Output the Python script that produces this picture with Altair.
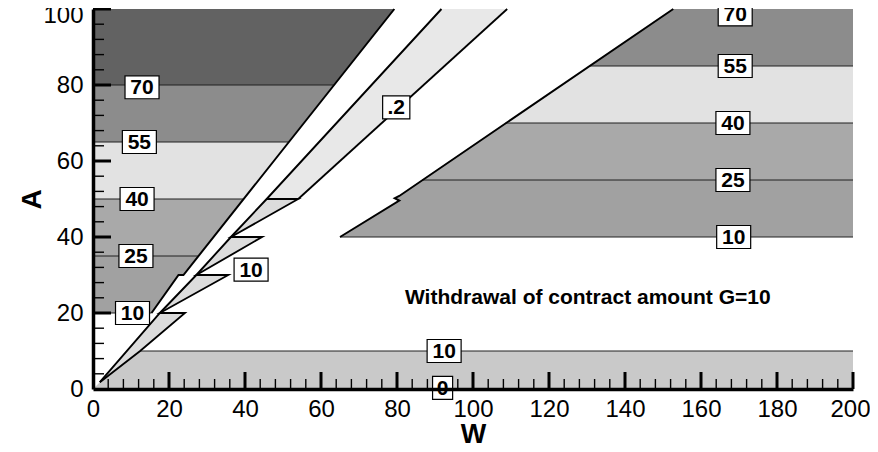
import altair as alt
import pandas as pd

FONT = "Liberation Sans"

# ---------------- filled contour regions (vertices: W, A) ----------------
bottom_W = [0, 200, 200, 12.4, 1.8]
bottom_A = [0, 0, 10, 10, 1.8]

left10_W = [0, 15.4, 22.5, 23.8, 27.6, 0]
left10_A = [20, 20, 30, 30, 35, 35]
left25_W = [0, 27.6, 39.6, 0]
left25_A = [35, 35, 50, 50]
left40_W = [0, 39.6, 51.4, 0]
left40_A = [50, 50, 65, 65]
left55_W = [0, 51.4, 63.3, 0]
left55_A = [65, 65, 80, 80]
left70_W = [0, 63.3, 79.3, 0]
left70_A = [80, 80, 100, 100]

right10_W = [65, 200, 200, 86.6, 80.6, 79.4, 80.6]
right10_A = [40, 40, 55, 55, 50.8, 50.2, 49.6]
right25_W = [86.6, 200, 200, 108.6]
right25_A = [55, 55, 70, 70]
right40_W = [108.6, 200, 200, 130.6]
right40_A = [70, 70, 85, 85]
right55_W = [130.6, 200, 200, 152.7]
right55_A = [85, 85, 100, 100]

band02_W = [45.7, 54, 109, 91.7]
band02_A = [50, 50, 100, 100]

tooth1_W = [1.8, 12.4, 24.2, 17.6]
tooth1_A = [1.8, 10, 20, 20]
tooth2_W = [17.6, 35.6, 27.2]
tooth2_A = [20, 30, 30]
tooth3_W = [27.2, 44.5, 36.3]
tooth3_A = [30, 40, 40]
tooth4_W = [36.3, 54, 45.7]
tooth4_A = [40, 50, 50]

# ---------------- outlines ----------------
edge_left_W = [15.4, 22.5, 23.8, 79.3]
edge_left_A = [20, 30, 30, 100]
edge_right_W = [65, 80.6, 79.4, 80.6, 152.7]
edge_right_A = [40, 49.6, 50.2, 50.8, 100]
ray_W = [1.8, 17.6, 27.2, 36.3, 45.7, 91.7]
ray_A = [1.8, 20, 30, 40, 50, 100]
saw_W = [1.8, 12.4, 24.2, 17.6, 35.6, 27.2, 44.5, 36.3, 54, 45.7]
saw_A = [1.8, 10, 20, 20, 30, 30, 40, 40, 50, 50]
band_right_W = [54, 109]
band_right_A = [50, 100]

# contour level lines (horizontal): level position A, start W, end W
hline_A = [10, 20, 35, 50, 65, 80, 40, 55, 70, 85]
hline_W0 = [12.4, 0, 0, 0, 0, 0, 65, 86.6, 108.6, 130.6]
hline_W1 = [200, 15.4, 27.6, 39.6, 51.4, 63.3, 200, 200, 200, 200]

# ---------------- contour labels ----------------
label_text = ["70", "55", "40", "25", "10", ".2", "10", "70", "55", "40", "25", "10", "10", "0"]
label_W = [12.9, 12.2, 11.6, 11.3, 10.4, 79.8, 41.6, 169.0, 169.0, 168.4, 168.4, 168.6, 92.4, 92.0]
label_A = [79.4, 65.0, 50.0, 35.0, 20.0, 74.1, 31.4, 98.6, 85.0, 70.0, 55.0, 40.0, 10.0, 0.3]

note_text = ["Withdrawal of contract amount G=10"]
note_W = [82.1]
note_A = [22.5]

x_label_values = list(range(0, 201, 20))
y_label_values = list(range(0, 101, 20))
x_minor = [v for v in range(4, 200, 4) if v % 20]
y_minor = [v for v in range(4, 100, 4) if v % 20]
x_major = list(range(20, 201, 20))
y_major = list(range(20, 101, 20))

# ---------------- build tables ----------------
polys = [
    ("bottom", "c0", bottom_W, bottom_A),
    ("left10", "c10", left10_W, left10_A),
    ("left25", "c25", left25_W, left25_A),
    ("left40", "c40", left40_W, left40_A),
    ("left55", "c55", left55_W, left55_A),
    ("left70", "c70", left70_W, left70_A),
    ("right10", "c10", right10_W, right10_A),
    ("right25", "c25", right25_W, right25_A),
    ("right40", "c40", right40_W, right40_A),
    ("right55", "c55", right55_W, right55_A),
    ("band02", "c02", band02_W, band02_A),
    ("tooth1", "ct", tooth1_W, tooth1_A),
    ("tooth2", "ct", tooth2_W, tooth2_A),
    ("tooth3", "ct", tooth3_W, tooth3_A),
    ("tooth4", "ct", tooth4_W, tooth4_A),
]
rows = []
for name, cls, ws, as_ in polys:
    for i, (w, a) in enumerate(zip(ws, as_)):
        rows.append({"poly": name, "cls": cls, "seq": i, "W": w, "A": a})
poly_df = pd.DataFrame(rows)

lines = [
    ("edge_left", edge_left_W, edge_left_A),
    ("edge_right", edge_right_W, edge_right_A),
    ("ray", ray_W, ray_A),
    ("saw", saw_W, saw_A),
    ("band_right", band_right_W, band_right_A),
]
lrows = []
for name, ws, as_ in lines:
    for i, (w, a) in enumerate(zip(ws, as_)):
        lrows.append({"lid": name, "seq": i, "W": w, "A": a})
line_df = pd.DataFrame(lrows)

hline_df = pd.DataFrame({"A": hline_A, "W": hline_W0, "W1": hline_W1})
label_df = pd.DataFrame({"label": label_text, "W": label_W, "A": label_A})
note_df = pd.DataFrame({"label": note_text, "W": note_W, "A": note_A})

xmaj_df = pd.DataFrame({"W": x_major})
xmin_df = pd.DataFrame({"W": x_minor})
ymaj_df = pd.DataFrame({"A": y_major})
ymin_df = pd.DataFrame({"A": y_minor})

# ---------------- scales / axes ----------------
xs = alt.Scale(domain=[0, 200], nice=False, zero=False)
ys = alt.Scale(domain=[0, 100], nice=False, zero=False)
x_axis = alt.Axis(values=x_label_values, title="W", grid=False, ticks=False, tickSize=0,
                  domainColor="black", domainWidth=3.5, labelFont=FONT, labelFontSize=24,
                  labelColor="black", labelPadding=8, labelFlush=False, labelOverlap=False,
                  labelOffset={"condition": {"test": "datum.value == 200", "value": -3}, "value": 0},
                  titleFont=FONT, titleFontSize=27, titleFontWeight="bold", titleColor="black",
                  titlePadding=0, zindex=1, format="d")
y_axis = alt.Axis(values=y_label_values, title="A", grid=False, ticks=False, tickSize=0,
                  domainColor="black", domainWidth=3.5, labelFont=FONT, labelFontSize=24,
                  labelColor="black", labelPadding=10, labelFlush=False, labelOverlap=False,
                  labelOffset={"condition": {"test": "datum.value == 100", "value": 6}, "value": 0},
                  titleFont=FONT, titleFontSize=28, titleFontWeight="bold", titleColor="black",
                  titleBaseline="alphabetic", titlePadding=2, zindex=1, format="d")


def ex(f="W"):
    return alt.X(f"{f}:Q", scale=xs, axis=x_axis)


def ey(f="A"):
    return alt.Y(f"{f}:Q", scale=ys, axis=y_axis)


fill_scale = alt.Scale(
    domain=["c0", "c10", "c25", "c40", "c55", "c70", "c02", "ct"],
    range=["#c9c9c9", "#a1a1a1", "#a9a9a9", "#e2e2e2", "#8c8c8c", "#626262", "#e8e8e8", "#dcdcdc"],
)

regions = alt.Chart(poly_df).mark_line(filled=True).encode(
    x=ex(), y=ey(),
    color=alt.Color("cls:N", scale=fill_scale, legend=None),
    detail="poly:N",
    order="seq:Q",
)

hlines = alt.Chart(hline_df).mark_rule(color="#202020", strokeWidth=1).encode(
    x=ex(), x2="W1:Q", y=ey()
)

outlines = alt.Chart(line_df).mark_line(color="black").encode(
    x=ex(), y=ey(),
    detail="lid:N",
    order="seq:Q",
    strokeWidth=alt.StrokeWidth(
        "lid:N",
        scale=alt.Scale(domain=["edge_left", "edge_right", "ray", "saw", "band_right"],
                        range=[2.0, 1.8, 1.5, 1.2, 1.5]),
        legend=None,
    ),
)

xmaj = alt.Chart(xmaj_df).mark_rule(color="black", strokeWidth=3).encode(
    x=ex(), y=alt.value(380), y2=alt.value(363))
xmin = alt.Chart(xmin_df).mark_rule(color="black", strokeWidth=1.4).encode(
    x=ex(), y=alt.value(380), y2=alt.value(370))
ymaj = alt.Chart(ymaj_df).mark_rule(color="black", strokeWidth=3).encode(
    y=ey(), x=alt.value(0), x2=alt.value(18))
ymin = alt.Chart(ymin_df).mark_rule(color="black", strokeWidth=1.4).encode(
    y=ey(), x=alt.value(0), x2=alt.value(11))

P2 = "M-1,-0.676L1,-0.676L1,0.676L-1,0.676Z"
P1 = "M-0.59,-0.676L0.59,-0.676L0.59,0.676L-0.59,0.676Z"
PD = "M-0.8,-0.676L0.8,-0.676L0.8,0.676L-0.8,0.676Z"

boxes = alt.Chart(label_df).transform_calculate(
    box=f"length(datum.label) == 1 ? '{P1}' : (datum.label == '.2' ? '{PD}' : '{P2}')"
).mark_point(filled=True, color="white", stroke="black", strokeWidth=1.2, opacity=1, size=1156).encode(
    x=ex(), y=ey(), shape=alt.Shape("box:N", scale=None, legend=None)
)

texts = alt.Chart(label_df).mark_text(
    font=FONT, fontWeight="bold", fontSize=21, color="black", baseline="middle", align="center", dy=1
).encode(x=ex(), y=ey(), text="label:N")

note = alt.Chart(note_df).mark_text(
    font=FONT, fontWeight="bold", fontSize=21, color="black", baseline="alphabetic", align="left"
).encode(x=ex(), y=ey(), text="label:N")

chart = alt.layer(
    regions, hlines, outlines, xmin, xmaj, ymin, ymaj, boxes, texts, note
).properties(
    width=760, height=380,
    autosize=alt.AutoSizeParams(type="none"),
    padding={"left": 85, "top": 1, "right": 17, "bottom": 55},
    background="white",
).configure_view(stroke=None)

chart.save("out.html", embed_options={"renderer": "svg", "actions": False})
